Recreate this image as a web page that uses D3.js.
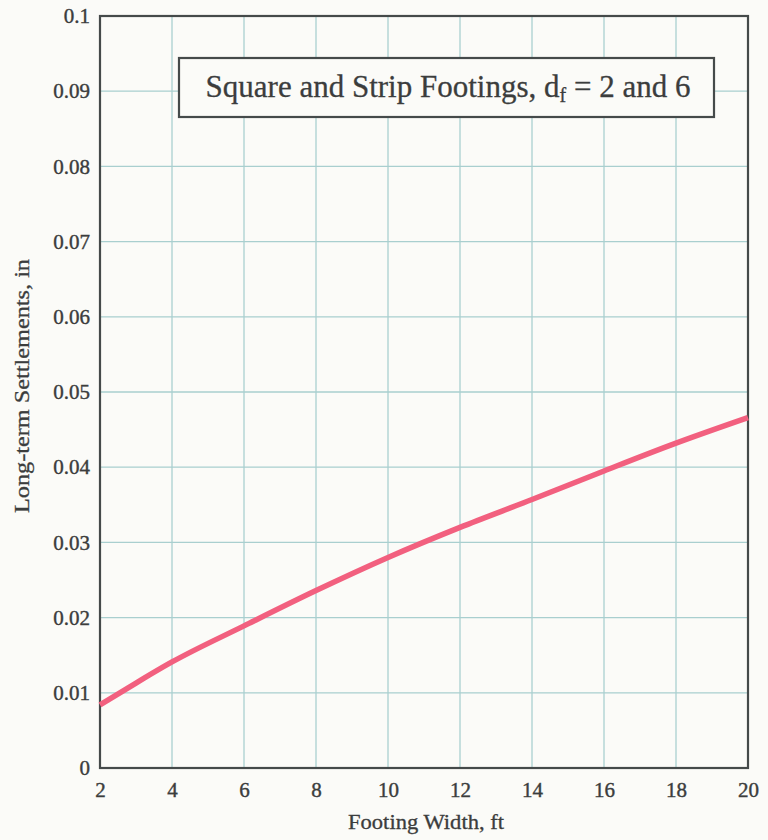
<!DOCTYPE html>
<html><head><meta charset="utf-8">
<script src="https://cdn.jsdelivr.net/npm/d3@7"></script>
<style>body{margin:0;background:#fbfbf8;} svg{display:block;}</style>
</head><body>
<script>
const widths = [2, 3, 4, 6, 8, 10, 12, 14, 16, 18, 20];
const settlements = [0.0084, 0.0113, 0.0141, 0.0189, 0.0236, 0.0280, 0.0320, 0.0357, 0.0395, 0.0432, 0.0466];
const xTicks = [2, 4, 6, 8, 10, 12, 14, 16, 18, 20];
const yTicks = [0, 0.01, 0.02, 0.03, 0.04, 0.05, 0.06, 0.07, 0.08, 0.09, 0.1];
const yTickLabels = ["0", "0.01", "0.02", "0.03", "0.04", "0.05", "0.06", "0.07", "0.08", "0.09", "0.1"];

const W = 768, H = 840;
const m = {left: 100, right: 20, top: 16, bottom: 72};
const svg = d3.select("body").append("svg").attr("width", W).attr("height", H);
svg.append("rect").attr("width", W).attr("height", H).attr("fill", "#fbfbf8");

const x = d3.scaleLinear().domain([2, 20]).range([m.left, W - m.right]);
const y = d3.scaleLinear().domain([0, 0.1]).range([H - m.bottom, m.top]);
const font = "'Liberation Serif', 'Times New Roman', serif";
const ink = "#3b3d3d";

// grid
const g = svg.append("g");
g.selectAll(".vx").data(xTicks.slice(1, -1)).join("line")
  .attr("x1", d => x(d)).attr("x2", d => x(d)).attr("y1", y(0)).attr("y2", y(0.1))
  .attr("stroke", "#a9cfcf").attr("stroke-width", 1.3);
g.selectAll(".hy").data(yTicks.slice(1, -1)).join("line")
  .attr("y1", d => y(d)).attr("y2", d => y(d)).attr("x1", x(2)).attr("x2", x(20))
  .attr("stroke", "#a9cfcf").attr("stroke-width", 1.3);

// frame
svg.append("rect").attr("x", x(2)).attr("y", y(0.1)).attr("width", x(20) - x(2)).attr("height", y(0) - y(0.1))
  .attr("fill", "none").attr("stroke", "#454a4a").attr("stroke-width", 2.2);

// axes
const xAxis = svg.append("g").attr("transform", `translate(0,${y(0)})`)
  .call(d3.axisBottom(x).tickValues(xTicks).tickSize(0).tickPadding(14).tickFormat(d3.format("d")));
xAxis.select(".domain").remove();
xAxis.selectAll("text").attr("font-family", font).attr("font-size", 21).attr("fill", ink)
  .attr("stroke", ink).attr("stroke-width", 0.4);

const yAxis = svg.append("g").attr("transform", `translate(${x(2)},0)`)
  .call(d3.axisLeft(y).tickValues(yTicks).tickSize(0).tickPadding(10).tickFormat((d, i) => yTickLabels[i]));
yAxis.select(".domain").remove();
yAxis.selectAll("text").attr("font-family", font).attr("font-size", 21).attr("fill", ink)
  .attr("stroke", ink).attr("stroke-width", 0.4);

// axis titles
svg.append("text").attr("x", (x(2) + x(20)) / 2 + 2).attr("y", 829).attr("text-anchor", "middle")
  .attr("font-family", font).attr("font-size", 20).attr("fill", ink)
  .attr("stroke", ink).attr("stroke-width", 0.3)
  .attr("textLength", 156).attr("lengthAdjust", "spacingAndGlyphs")
  .text("Footing Width, ft");
svg.append("text").attr("transform", `translate(29,386) rotate(-90)`)
  .attr("text-anchor", "middle").attr("font-family", font).attr("font-size", 20).attr("fill", ink)
  .attr("stroke", ink).attr("stroke-width", 0.3)
  .attr("textLength", 254).attr("lengthAdjust", "spacingAndGlyphs")
  .text("Long-term Settlements, in");

// curve
const line = d3.line().x((d, i) => x(widths[i])).y(d => y(d)).curve(d3.curveMonotoneX);
svg.append("path").datum(settlements).attr("d", line).attr("fill", "none")
  .attr("stroke", "#f2607f").attr("stroke-width", 5.5).attr("stroke-linecap", "butt");

// legend box
svg.append("rect").attr("x", 179).attr("y", 58).attr("width", 535).attr("height", 59)
  .attr("fill", "#fbfbf8").attr("stroke", "#454a4a").attr("stroke-width", 2.2);
const t = svg.append("text").attr("x", 448).attr("y", 97).attr("text-anchor", "middle")
  .attr("font-family", font).attr("font-size", 31).attr("fill", ink)
  .attr("stroke", ink).attr("stroke-width", 0.3);
t.append("tspan").text("Square and Strip Footings, d");
t.append("tspan").attr("font-size", 20).attr("dy", 5).text("f");
t.append("tspan").attr("dy", -5).text(" = 2 and 6");
</script>
</body></html>
